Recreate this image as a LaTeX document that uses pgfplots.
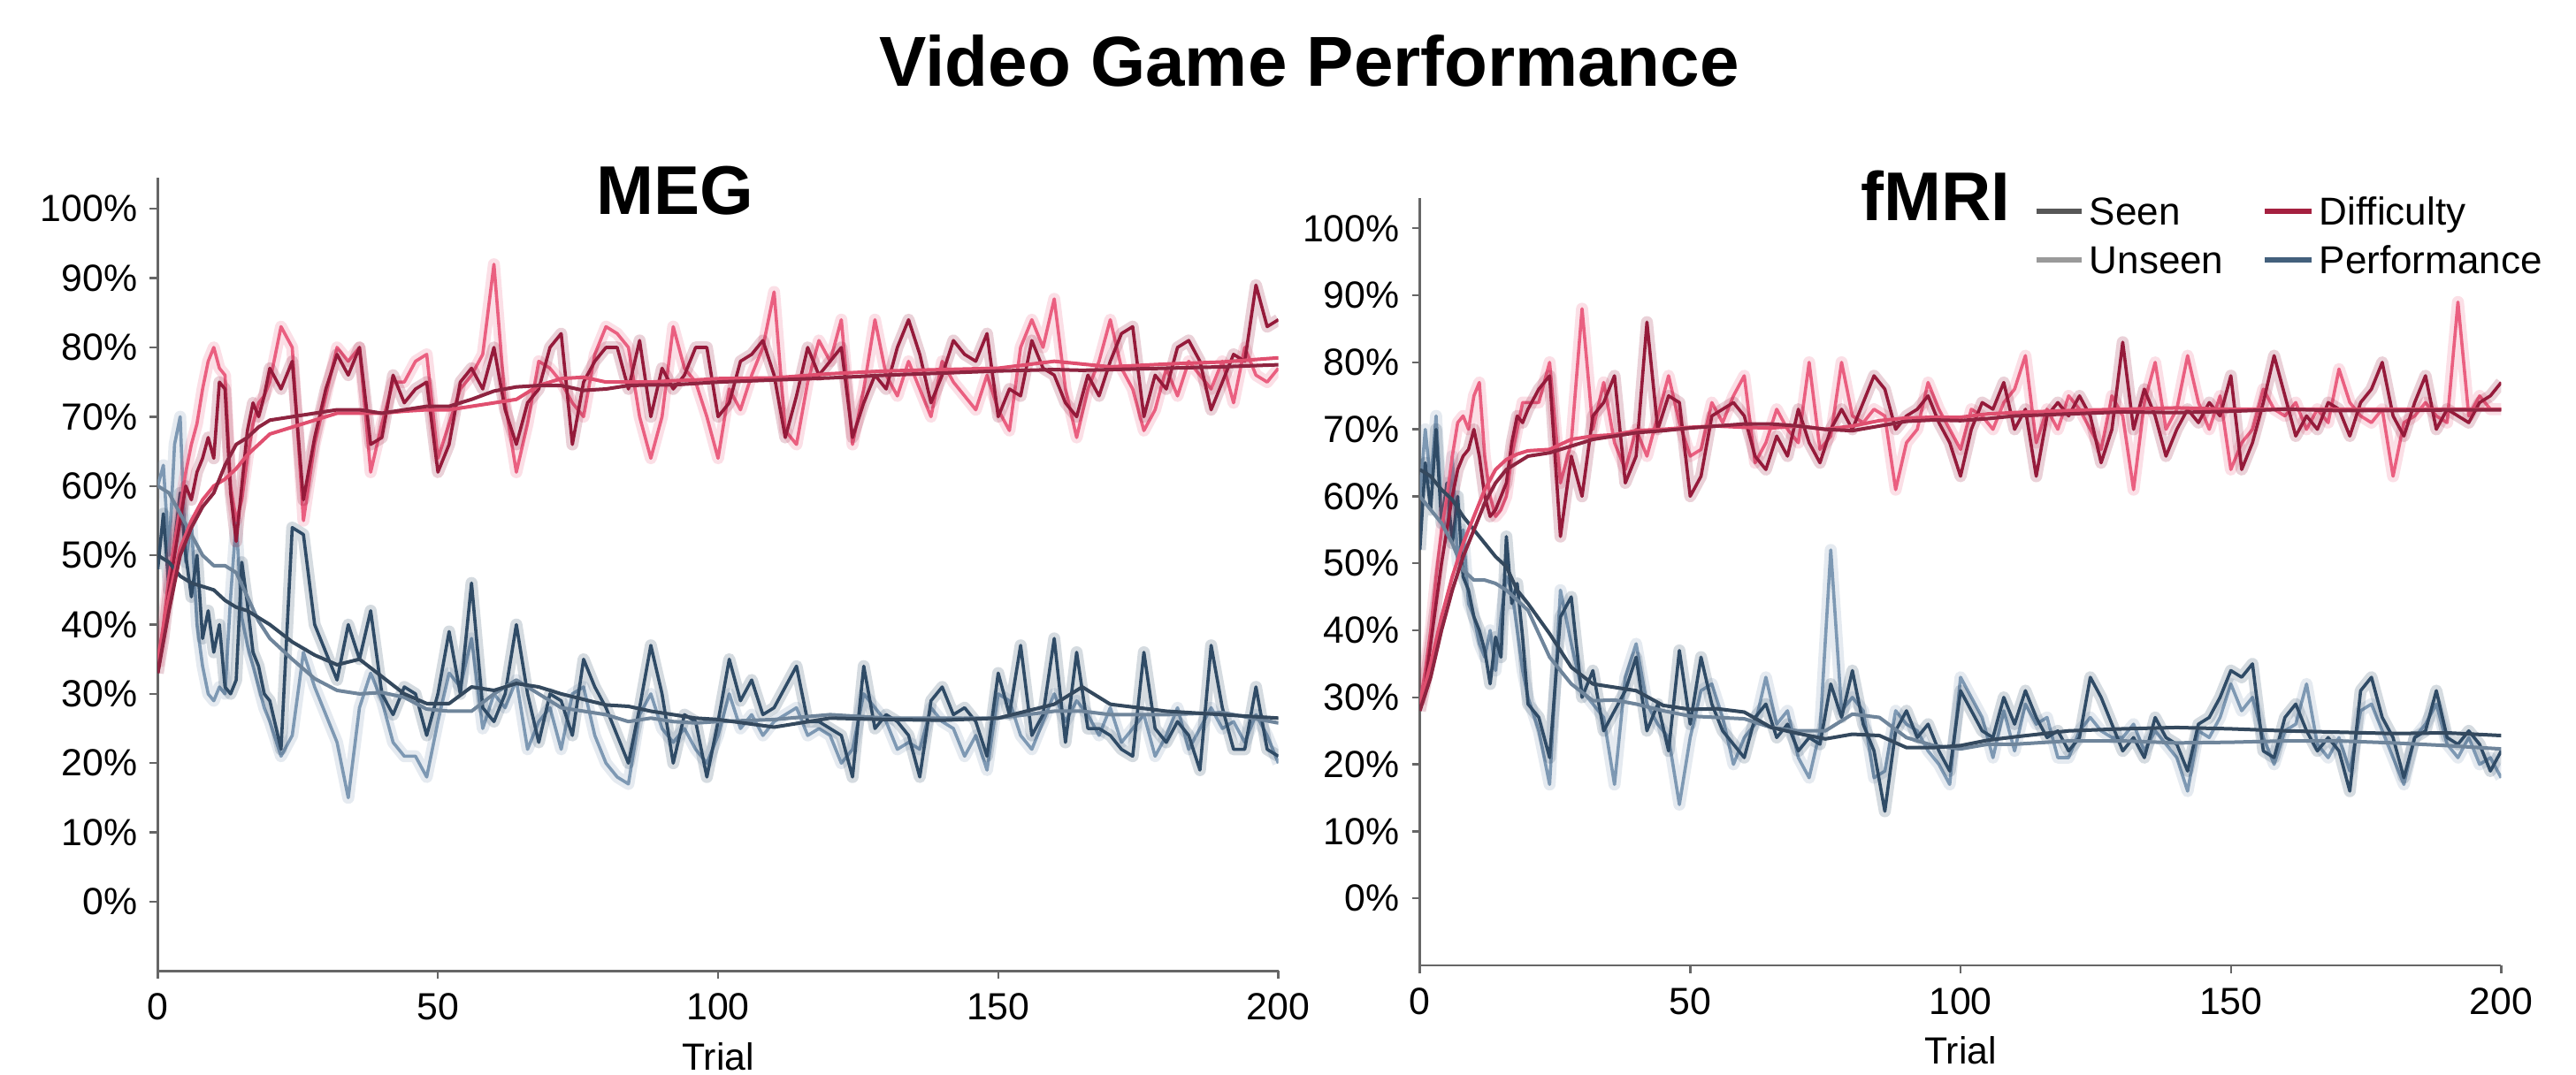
\documentclass[border=0pt]{standalone}
\usepackage{fontspec}
\setmainfont{Liberation Sans}
\usepackage{pgfplots}
\usepackage{pgfplotstable}
\pgfplotsset{compat=1.18}

\definecolor{sdc}{HTML}{951A3A}
\definecolor{udc}{HTML}{EA5F80}
\definecolor{spc}{HTML}{2F4B66}
\definecolor{upc}{HTML}{7D98B3}
\definecolor{ssdc}{HTML}{8E2440}
\definecolor{sudc}{HTML}{E04F6F}
\definecolor{sspc}{HTML}{34495E}
\definecolor{supc}{HTML}{6F859B}
\definecolor{legseen}{HTML}{575757}
\definecolor{legunseen}{HTML}{9A9A9A}
\definecolor{legdiff}{HTML}{A52040}
\definecolor{legperf}{HTML}{43607C}
\definecolor{axc}{HTML}{666666}

% t: trial, sd: seen difficulty, ud: unseen difficulty, sp: seen performance, up: unseen performance
\pgfplotstableread{
t sd ud sp up
0 33 34 48 60
1 38 40 56 63
2 45 47 45 50
3 50 52 52 66
4 55 57 59 70
5 60 62 50 49
6 58 66 44 55
7 62 69 50 40
8 64 74 38 34
9 67 78 42 30
10 64 80 36 29
11 75 77 40 31
12 74 76 31 30
13 59 60 30 44
14 52 55 32 55
15 60 58 49 41
16 68 64 43 37
17 72 69 36 34
18 70 72 34 31
19 73 73 30 28
20 77 75 29 26
22 74 83 22 21
24 78 80 54 24
26 58 55 53 36
28 67 66 40 31
30 74 73 36 27
32 79 80 32 23
34 76 78 40 15
36 80 80 35 28
38 66 62 42 33
40 67 69 30 29
42 76 75 27 23
44 72 75 31 21
46 74 78 30 21
48 75 79 24 18
50 62 64 30 26
52 66 69 39 33
54 75 74 30 31
56 77 76 46 38
58 74 79 28 25
60 80 92 26 30
62 71 72 30 28
64 66 62 40 32
66 72 69 30 22
68 74 78 23 26
70 80 77 30 28
72 82 75 29 22
74 66 72 24 30
76 75 70 35 31
78 78 79 31 24
80 80 83 28 20
82 80 82 24 18
84 74 80 20 17
86 81 70 28 27
88 70 64 37 30
90 77 70 30 25
92 74 83 20 23
94 76 77 27 25
96 80 75 26 22
98 80 70 18 20
100 70 64 26 24
102 72 74 35 30
104 78 71 29 25
106 79 76 32 27
108 81 80 27 24
110 76 88 28 26
112 67 68 31 27
114 73 66 34 28
116 80 75 26 24
118 76 81 26 25
120 78 78 25 24
122 80 84 24 20
124 67 66 18 22
126 72 74 34 30
128 76 84 25 28
130 74 76 27 26
132 80 73 26 22
134 84 78 24 23
136 79 74 18 22
138 72 70 29 28
140 76 78 31 26
142 81 75 27 25
144 79 73 28 21
146 78 71 26 24
148 82 76 21 19
150 70 71 33 30
152 74 68 27 29
154 73 80 37 24
156 81 84 24 22
158 77 80 27 26
160 76 87 38 30
162 72 74 23 26
164 70 67 36 29
166 76 74 25 27
168 73 78 25 24
170 78 84 24 28
172 82 77 22 23
174 83 74 21 25
176 70 68 36 27
178 76 71 25 21
180 74 77 23 24
182 80 73 26 28
184 81 78 24 22
186 78 76 19 25
188 71 74 37 28
190 75 78 28 25
192 79 72 22 26
194 78 80 22 23
196 89 76 31 27
198 83 75 22 24
200 84 77 21 20
}\megdata

\pgfplotstableread{
t sd ud sp up
0 33 35 50 60
2 42 44 49 59
4 50 51 47 56
6 54 55 46 53
8 57 58 45.5 50
10 59 60 45 48.5
12 63 61 43.5 48.5
14 66 62.5 42.5 47.5
16 67 64.5 42 44
18 68.5 66 41 40.5
20 69.5 67.5 40 38
24 70 68.5 37.5 35
28 70.5 69.5 35.6 32.2
32 71 70.5 34.2 30.5
36 71 70.5 35 30
40 70.5 70.5 32.5 30.2
44 71 70.8 30 29.5
48 71.5 71 28.6 27.8
52 71.5 71 28.6 27.5
56 72.5 71.5 31 27.5
60 73.7 72 30.5 30
64 74.3 72.5 31.5 32
68 74.5 74.5 31 30
72 74.5 75.5 30 28
76 73.8 75.7 29.2 27.5
80 74 75 28.4 27
84 74.5 75 28.2 26
88 74.6 75 27.5 26.5
92 74.6 75.2 27 26
96 74.8 75.3 26.5 25.8
100 75 75.5 26.3 26
110 75.3 75.6 25.2 26.3
120 75.6 76.2 26.5 27
130 76 76.6 26.3 26.5
140 76.3 76.8 26.2 26.5
150 76.6 77 26.5 26.5
160 76.8 78 28.5 27.5
165 76.7 77.6 31 27.5
170 76.8 77.2 28.5 27
180 77 77.6 27.5 27
190 77.2 77.9 27 27.3
200 77.5 78.5 26.5 25.8
}\megsmooth

\pgfplotstableread{
t sd ud sp up
0 28 29 52 60
1 32 34 65 70
2 38 40 58 62
3 44 48 70 72
4 50 55 56 58
5 55 60 62 54
6 60 66 53 66
7 64 71 60 50
8 66 72 48 55
9 67 70 46 44
10 70 75 42 42
11 66 77 40 38
12 60 66 37 36
13 57 60 32 40
14 58 57 39 34
15 60 58 36 42
16 62 60 54 48
17 68 66 44 46
18 72 70 47 40
19 71 74 39 34
20 73 74 29 30
22 76 74 27 25
24 78 80 21 17
26 54 62 42 46
28 66 68 45 38
30 60 88 30 31
32 72 70 34 29
34 74 77 25 27
36 78 68 28 17
38 62 64 31 33
40 66 70 36 38
42 86 66 25 29
44 70 72 29 26
46 75 78 22 24
48 74 71 37 14
50 60 66 26 24
52 63 67 36 31
54 72 74 29 32
56 73 71 25 27
58 74 75 23 20
60 72 78 21 24
62 66 65 27 26
64 64 68 29 33
66 69 73 24 26
68 66 70 26 28
70 73 68 22 21
72 68 80 24 18
74 65 67 23 25
76 70 69 32 52
78 73 80 27 28
80 70 72 34 30
82 74 71 26 28
84 78 73 22 18
86 76 72 13 19
88 70 61 25 28
90 72 68 28 26
92 73 70 24 25
94 75 77 26 22
96 71 73 22 20
98 68 70 19 17
100 63 67 31 33
102 70 73 28 30
104 74 72 25 27
106 73 70 24 21
108 77 74 30 28
110 70 76 26 22
112 73 81 31 29
114 63 68 27 26
116 72 73 24 27
118 74 70 25 21
120 72 75 22 21
122 75 73 24 25
124 72 70 33 27
126 65 67 30 25
128 70 75 26 24
130 83 72 22 24
132 70 61 24 26
134 76 74 21 22
136 72 80 27 25
138 66 70 24 23
140 70 73 23 21
142 73 81 19 16
144 71 74 26 25
146 74 70 27 24
148 72 75 30 27
150 78 64 34 32
152 64 68 33 28
154 68 70 35 30
156 74 76 22 24
158 81 73 21 20
160 75 72 27 25
162 69 74 29 26
164 72 70 25 32
166 70 73 22 23
168 74 71 24 21
170 73 79 22 24
172 69 74 16 19
174 74 72 31 28
176 76 71 33 29
178 80 73 27 25
180 72 63 24 21
182 69 71 18 17
184 74 72 24 24
186 78 74 25 26
188 70 72 31 29
190 73 71 24 23
192 72 89 23 21
194 71 72 25 24
196 74 75 23 20
198 75 73 19 21
200 77 73 22 18
}\fmridata

\pgfplotstableread{
t sd ud sp up
0 28 29 64 60
2 33 35 63 58
4 40 42 61 56
6 46 48 59.5 53
8 51 53 57 49
10 55 57 55 47.5
12 59 61 53 47.5
14 62 64 51 47
16 64 65.5 49.5 46
18 65 66.3 46 44.5
20 66 66.8 44 43
24 66.5 67 39.5 36
28 67.5 68.5 34.5 32
32 68.5 69 32 29.5
36 69 69.2 31.5 29.6
40 69.5 69.8 31 29
45 69.8 70 28.8 28
50 70.2 70.3 28.2 27.2
55 70.5 70.5 28.3 27
60 70.8 70.3 27.8 26.8
65 70.8 70.2 25.5 25.5
70 70.5 70.5 24.6 25
75 70 70 23.8 25
80 69.8 70.5 24.5 27.5
85 70.5 71.3 24.3 27
90 71.2 71.7 22.5 24
95 71.4 71.8 22.5 22.8
100 71.3 71.8 22.8 22.3
105 71.6 72.3 23.6 23
110 72 72.5 24.1 23
120 72.3 72.8 25 23.5
130 72.6 73 25.3 23.5
140 72.5 73.2 25.5 23.2
150 72.7 73 25.3 23.3
160 73 73 25 23.5
170 72.8 73 24.8 23.5
180 72.8 73 24.6 23.2
190 72.9 73 24.7 22.8
200 72.9 73 24.3 22.3
}\fmrismooth

\newcommand{\tickfont}{\fontsize{10.7}{12}\selectfont}
\newcommand{\noisy}[3]{%
  \addplot[draw=#2, line width=3.4pt, opacity=0.2, line join=round, forget plot] table[x=t,y=#1]{#3};
  \addplot[draw=#2, line width=0.9pt, line join=round, forget plot] table[x=t,y=#1]{#3};
}
\newcommand{\smoothln}[3]{%
  \addplot[draw=#2, line width=1.0pt, line join=round, forget plot] table[x=t,y=#1]{#3};
}

\pgfplotsset{
  panel/.style={
    scale only axis, anchor=south west,
    xmin=0, xmax=200, ymin=-10, ymax=104.5,
    axis x line*=bottom, axis y line*=left,
    axis line style={-, color=axc, line width=0.6pt},
    xtick={0,50,100,150,200},
    ytick={0,10,20,30,40,50,60,70,80,90,100},
    yticklabels={0\%,10\%,20\%,30\%,40\%,50\%,60\%,70\%,80\%,90\%,100\%},
    tick align=outside, major tick length=2.25pt,
    tick style={color=axc, line width=0.6pt},
    /pgf/number format/assume math mode=true,
    ticklabel style={font=\tickfont, text=black},
    xticklabel style={yshift=-0.6pt},
    xlabel={Trial},
    xlabel style={font=\tickfont, at={(axis description cs:0.5,0)}, anchor=center, yshift=-24.1pt},
  }
}

\begin{document}
\begin{tikzpicture}
\path[use as bounding box] (0,0) rectangle (728.25pt,304pt);

% MEG panel
\begin{axis}[panel, at={(44.6pt,29.4pt)}, width=316.8pt, height=224.35pt]
  \noisy{up}{upc}{\megdata}
  \noisy{sp}{spc}{\megdata}
  \noisy{ud}{udc}{\megdata}
  \noisy{sd}{sdc}{\megdata}
  \smoothln{up}{supc}{\megsmooth}
  \smoothln{sp}{sspc}{\megsmooth}
  \smoothln{ud}{sudc}{\megsmooth}
  \smoothln{sd}{ssdc}{\megsmooth}
\end{axis}

% fMRI panel
\begin{axis}[panel, at={(401.4pt,31pt)}, width=305.7pt, height=216.95pt]
  \noisy{up}{upc}{\fmridata}
  \noisy{sp}{spc}{\fmridata}
  \noisy{ud}{udc}{\fmridata}
  \noisy{sd}{sdc}{\fmridata}
  \smoothln{up}{supc}{\fmrismooth}
  \smoothln{sp}{sspc}{\fmrismooth}
  \smoothln{ud}{sudc}{\fmrismooth}
  \smoothln{sd}{ssdc}{\fmrismooth}
\end{axis}

% titles
\node[font=\fontsize{20}{24}\selectfont\bfseries] at (370.2pt,286.8pt) {Video Game Performance};
\node[font=\fontsize{19.5}{23}\selectfont\bfseries] at (190.8pt,250pt) {MEG};
\node[font=\fontsize{19.5}{23}\selectfont\bfseries] at (547.2pt,248.8pt) {fMRI};

% legend
\draw[legseen, line width=1.6pt] (575.7pt,244.2pt) -- (588.5pt,244.2pt);
\node[anchor=base west, inner sep=0pt, font=\fontsize{11}{13}\selectfont] at (590.5pt,240.3pt) {Seen};
\draw[legunseen, line width=1.6pt] (575.7pt,230.5pt) -- (588.5pt,230.5pt);
\node[anchor=base west, inner sep=0pt, font=\fontsize{11}{13}\selectfont] at (590.5pt,226.6pt) {Unseen};
\draw[legdiff, line width=1.6pt] (640.2pt,244.2pt) -- (653.6pt,244.2pt);
\node[anchor=base west, inner sep=0pt, font=\fontsize{11}{13}\selectfont] at (655.5pt,240.3pt) {Difficulty};
\draw[legperf, line width=1.6pt] (640.2pt,230.5pt) -- (653.6pt,230.5pt);
\node[anchor=base west, inner sep=0pt, font=\fontsize{11}{13}\selectfont] at (655.5pt,226.6pt) {Performance};
\end{tikzpicture}
\end{document}
